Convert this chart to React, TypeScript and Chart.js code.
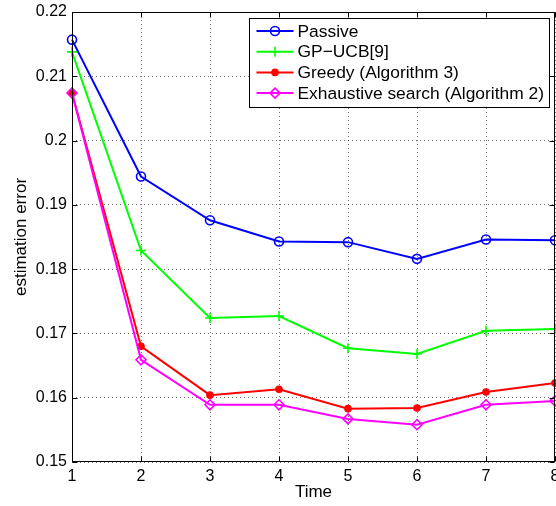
import React, { useEffect, useRef } from 'react';
import { Chart, registerables } from 'chart.js';
import { drawPoint } from 'chart.js/helpers';

Chart.register(...registerables);

const timeSteps = [1, 2, 3, 4, 5, 6, 7, 8];
const passive = [0.2157, 0.1944, 0.1876, 0.1843, 0.1842, 0.1816, 0.1846, 0.1845];
const gpUcb = [0.2138, 0.1829, 0.1724, 0.1727, 0.1677, 0.1668, 0.1704, 0.1707];
const greedy = [0.2074, 0.168, 0.1604, 0.1613, 0.1583, 0.1584, 0.1609, 0.1623];
const exhaustive = [0.2074, 0.1659, 0.1589, 0.1589, 0.1567, 0.1558, 0.1589, 0.1595];
const seriesLabels = ['Passive', 'GP\u2212UCB[9]', 'Greedy (Algorithm 3)', 'Exhaustive search (Algorithm 2)'];
const yMin = 0.15;
const yMax = 0.22;
const xTitle = 'Time';
const yTitle = 'estimation error';

const FONT = '"Liberation Sans", Arial, Helvetica, sans-serif';

const framePlugin = {
  id: 'frame',
  afterDatasetsDraw(chart: any) {
    const { ctx, chartArea: a } = chart;
    const l = Math.round(a.left) + 0.5;
    const r = Math.round(a.right) - 0.5;
    const t = Math.round(a.top) + 0.5;
    const b = Math.round(a.bottom) - 0.5;
    ctx.save();
    ctx.strokeStyle = '#000';
    ctx.lineWidth = 1;
    ctx.setLineDash([]);
    ctx.strokeRect(l, t, r - l, b - t);
    const tl = 5;
    ctx.beginPath();
    chart.scales.x.ticks.forEach((tk: any) => {
      const x = Math.round(chart.scales.x.getPixelForValue(tk.value)) + 0.5;
      ctx.moveTo(x, b);
      ctx.lineTo(x, b - tl);
      ctx.moveTo(x, t);
      ctx.lineTo(x, t + tl);
    });
    chart.scales.y.ticks.forEach((tk: any) => {
      const y = Math.round(chart.scales.y.getPixelForValue(tk.value)) + 0.5;
      ctx.moveTo(l, y);
      ctx.lineTo(l + tl, y);
      ctx.moveTo(r, y);
      ctx.lineTo(r - tl, y);
    });
    ctx.stroke();
    ctx.restore();
  },
};

const legendPlugin = {
  id: 'boxLegend',
  afterDraw(chart: any) {
    const { ctx, chartArea: a } = chart;
    const ds = chart.data.datasets;
    ctx.save();
    ctx.font = '17.4px ' + FONT;
    const textW = Math.max(...ds.map((d: any) => ctx.measureText(d.label).width));
    const padL = 7, lineLen = 37, gap = 4, padR = 6;
    const boxW = padL + lineLen + gap + textW + padR;
    const right = Math.round(a.right) - 5.5;
    const left = Math.round(right - boxW) + 0.5;
    const top = Math.round(a.top) + 6.5;
    const rowH = 20.7;
    const boxH = 89;
    ctx.fillStyle = '#fff';
    ctx.fillRect(left, top, right - left, boxH);
    ctx.strokeStyle = '#000';
    ctx.lineWidth = 1;
    ctx.strokeRect(left, top, right - left, boxH);
    ds.forEach((d: any, i: number) => {
      const y = top + 12.5 + i * rowH;
      const x0 = left + padL;
      ctx.strokeStyle = d.borderColor;
      ctx.lineWidth = d.borderWidth;
      ctx.beginPath();
      ctx.moveTo(x0, y);
      ctx.lineTo(x0 + lineLen, y);
      ctx.stroke();
      ctx.fillStyle = d.pointBackgroundColor;
      ctx.strokeStyle = d.borderColor;
      ctx.lineWidth = d.pointBorderWidth;
      drawPoint(ctx, { pointStyle: d.pointStyle, rotation: 0, radius: d.pointRadius, borderWidth: d.pointBorderWidth } as any, x0 + lineLen / 2, y);
      ctx.fillStyle = '#000';
      ctx.textAlign = 'left';
      ctx.textBaseline = 'middle';
      ctx.fillText(d.label, x0 + lineLen + gap, y + 1);
    });
    ctx.restore();
  },
};

export default function App() {
  const ref = useRef<HTMLCanvasElement | null>(null);
  useEffect(() => {
    document.body.style.margin = '0';
    const canvas = ref.current!;
    const mk = (vals: number[]) => vals.map((v, i) => ({ x: timeSteps[i], y: v }));
    const chart = new Chart(canvas, {
      type: 'line',
      data: {
        datasets: [
          {
            label: seriesLabels[0], data: mk(passive), borderColor: '#0000ff', borderWidth: 2,
            pointStyle: 'circle', pointRadius: 4.5, pointBorderWidth: 1.6,
            pointBackgroundColor: 'rgba(0,0,0,0)', pointBorderColor: '#0000ff', order: 3, clip: false,
          } as any,
          {
            label: seriesLabels[1], data: mk(gpUcb), borderColor: '#00ff00', borderWidth: 2,
            pointStyle: 'cross', pointRadius: 5, pointBorderWidth: 1.6,
            pointBackgroundColor: '#00ff00', pointBorderColor: '#00ff00', order: 2, clip: false,
          },
          {
            label: seriesLabels[2], data: mk(greedy), borderColor: '#ff0000', borderWidth: 2,
            pointStyle: 'circle', pointRadius: 3.2, pointBorderWidth: 1.2,
            pointBackgroundColor: '#ff0000', pointBorderColor: '#ff0000', order: 1, clip: false,
          },
          {
            label: seriesLabels[3], data: mk(exhaustive), borderColor: '#ff00ff', borderWidth: 2,
            pointStyle: 'rectRot', pointRadius: 5, pointBorderWidth: 1.6,
            pointBackgroundColor: 'rgba(0,0,0,0)', pointBorderColor: '#ff00ff', order: 0, clip: false,
          },
        ],
      },
      options: {
        responsive: false,
        animation: false,
        devicePixelRatio: 1,
        layout: { autoPadding: false, padding: { top: 12, right: 1, left: 0, bottom: 0 } },
        plugins: { legend: { display: false }, tooltip: { enabled: false } },
        elements: { line: { tension: 0 } },
        scales: {
          x: {
            type: 'linear', min: 1, max: 8,
            ticks: { stepSize: 1, color: '#000', font: { family: FONT, size: 16 }, padding: 5, maxRotation: 0 },
            grid: { color: 'rgba(0,0,0,0.55)', lineWidth: 1, drawTicks: false },
            border: { display: false, dash: [1, 3] },
            title: { display: true, text: xTitle, color: '#000', font: { family: FONT, size: 17 }, padding: { top: 0, bottom: 3 } },
            afterFit: (s: any) => { s.height = 44; s.paddingLeft = 0; s.paddingRight = 0; },
          },
          y: {
            type: 'linear', min: yMin, max: yMax,
            ticks: {
              stepSize: 0.01, color: '#000', font: { family: FONT, size: 16 }, padding: 5,
              callback: (v: any) => String(Number(Number(v).toFixed(2))),
            },
            grid: { color: 'rgba(0,0,0,0.55)', lineWidth: 1, drawTicks: false },
            border: { display: false, dash: [1, 3] },
            title: { display: true, text: yTitle, color: '#000', font: { family: FONT, size: 17 }, padding: { top: 11, bottom: 0 } },
            afterFit: (s: any) => { s.width = 72; s.paddingTop = 0; s.paddingBottom = 0; },
          },
        },
      },
      plugins: [framePlugin, legendPlugin],
    });
    return () => chart.destroy();
  }, []);
  return <canvas ref={ref} width={556} height={506} style={{ display: 'block' }} />;
}
